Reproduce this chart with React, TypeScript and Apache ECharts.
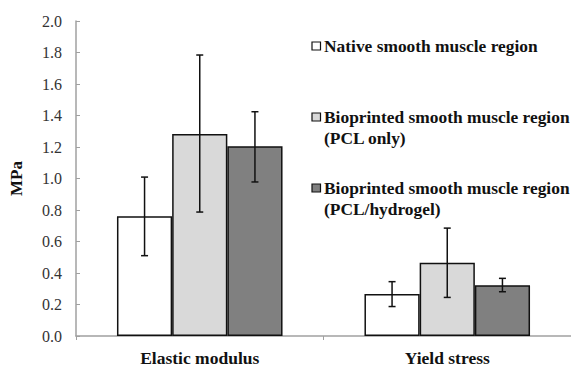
import React, { useEffect, useRef } from "react";
import * as echarts from "echarts";

const categories = ["Elastic modulus", "Yield stress"];
const seriesNames = [
  "Native smooth muscle region",
  "Bioprinted smooth muscle region (PCL only)",
  "Bioprinted smooth muscle region (PCL/hydrogel)",
];
const nativeMean = [0.76, 0.266];
const pclMean = [1.283, 0.465];
const hydrogelMean = [1.205, 0.322];
const nativeErr = [[0.51, 1.009], [0.187, 0.345]];
const pclErr = [[0.787, 1.784], [0.245, 0.685]];
const hydrogelErr = [[0.978, 1.424], [0.281, 0.366]];
const yTicks = { min: 0, max: 2, interval: 0.2 };

const colors = ["#ffffff", "#d9d9d9", "#808080"];
const FONT = "Liberation Serif";
const BAR_FRAC = 0.223;

export default function App() {
  const ref = useRef<HTMLDivElement>(null);
  useEffect(() => {
    if (!ref.current) return;
    const chart = echarts.init(ref.current, null, { renderer: "svg" });
    const means = [nativeMean, pclMean, hydrogelMean];
    const errs = [nativeErr, pclErr, hydrogelErr];

    const makeErr = (idx: number) => (params: any, api: any) => {
      const x = api.value(0);
      const lo = api.coord([x, api.value(1)]);
      const hi = api.coord([x, api.value(2)]);
      const band = api.size([1, 0])[0];
      const cx = lo[0] + (idx - 1) * band * BAR_FRAC;
      const hw = 3.5;
      const style = { stroke: "#111", lineWidth: 1.5 };
      return {
        type: "group",
        children: [
          { type: "line", shape: { x1: cx, y1: hi[1], x2: cx, y2: lo[1] }, style },
          { type: "line", shape: { x1: cx - hw, y1: hi[1], x2: cx + hw, y2: hi[1] }, style },
          { type: "line", shape: { x1: cx - hw, y1: lo[1], x2: cx + hw, y2: lo[1] }, style },
        ],
      };
    };

    const barSeries = means.map((m, i) => ({
      name: seriesNames[i],
      type: "bar",
      data: m,
      barWidth: (BAR_FRAC * 100).toFixed(1) + "%",
      barGap: "0%",
      itemStyle: { color: colors[i], borderColor: "#111", borderWidth: 1.5 },
      z: 2,
    }));
    const errSeries = errs.map((e, i) => ({
      name: seriesNames[i] + " error",
      type: "custom",
      renderItem: makeErr(i),
      encode: { x: 0, y: [1, 2] },
      data: e.map((v, j) => [j, v[0], v[1]]),
      z: 5,
    }));

    const legendItems: any[] = [];
    const legendRows = [
      { y: 46, lines: ["Native smooth muscle region"] },
      { y: 117, lines: ["Bioprinted smooth muscle region", "(PCL only)"] },
      { y: 188, lines: ["Bioprinted smooth muscle region", "(PCL/hydrogel)"] },
    ];
    legendRows.forEach((row, i) => {
      legendItems.push({
        type: "rect",
        shape: { x: 312, y: row.y - 4, width: 8.5, height: 8 },
        style: { fill: colors[i], stroke: "#111", lineWidth: 1.2 },
      });
      row.lines.forEach((t, k) => {
        legendItems.push({
          type: "text",
          x: 324,
          y: row.y + k * 21,
          style: {
            text: t,
            fill: "#111",
            fontFamily: FONT,
            fontWeight: "bold",
            fontSize: 17.4,
            verticalAlign: "middle",
            align: "left",
          },
        });
      });
    });

    chart.setOption({
      animation: false,
      textStyle: { fontFamily: FONT },
      grid: { left: 67, top: 21, bottom: 28.5, right: -12.6, containLabel: false },
      xAxis: {
        type: "category",
        data: categories,
        axisLine: { lineStyle: { color: "#a0a0a0", width: 1.5 } },
        axisTick: { show: true, length: 4, lineStyle: { color: "#a0a0a0" } },
        axisLabel: {
          color: "#111",
          fontFamily: FONT,
          fontWeight: "bold",
          fontSize: 17.5,
          margin: 13,
        },
      },
      yAxis: {
        type: "value",
        min: yTicks.min,
        max: yTicks.max,
        interval: yTicks.interval,
        name: "MPa",
        nameLocation: "middle",
        nameGap: 51,
        nameTextStyle: { color: "#111", fontFamily: FONT, fontWeight: "bold", fontSize: 17 },
        axisLine: { show: true, lineStyle: { color: "#a0a0a0", width: 1.5 } },
        axisTick: { show: true, inside: true, length: 4, lineStyle: { color: "#a0a0a0" } },
        splitLine: { show: false },
        axisLabel: {
          color: "#333",
          fontFamily: FONT,
          fontSize: 16,
          margin: 14,
          formatter: (v: number) => v.toFixed(1),
        },
      },
      graphic: legendItems,
      series: [...barSeries, ...errSeries],
    });
    return () => chart.dispose();
  }, []);
  return <div ref={ref} style={{ width: 571, height: 367, position: "absolute", left: 0, top: 0 }} />;
}
